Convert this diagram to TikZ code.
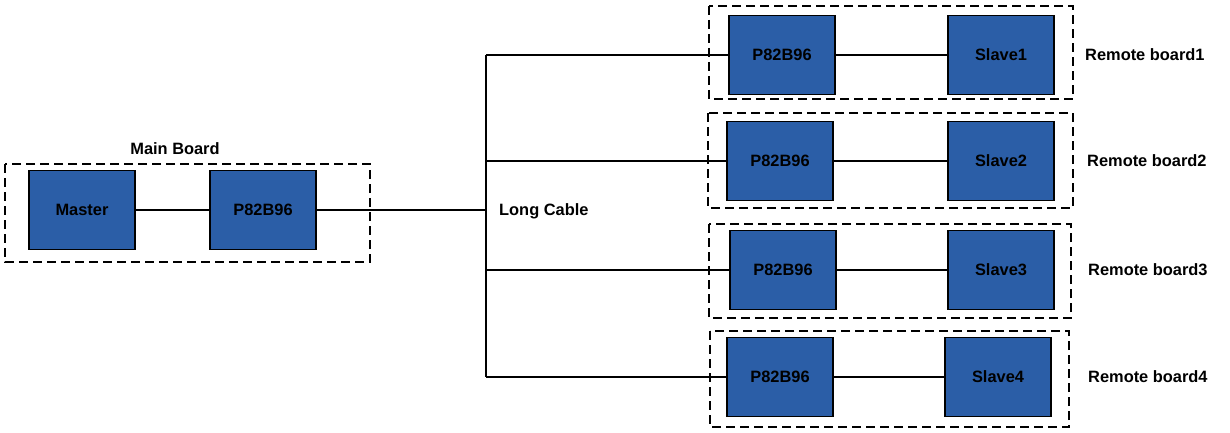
\documentclass[tikz,border=0pt]{standalone}
\usepackage{fontspec}
\setmainfont{Liberation Sans}
\begin{document}
\begin{tikzpicture}[x=1pt,y=-1pt,
  chip/.style={draw=black,line width=1.5pt,fill=chipblue,minimum width=106pt,minimum height=79pt,inner sep=0pt,font=\fontsize{16.4}{19}\selectfont\bfseries},
  board/.style={draw=black,line width=1.8pt,dash pattern=on 9pt off 5pt},
  lbl/.style={font=\fontsize{16.4}{19}\selectfont\bfseries,inner sep=0pt},
  wire/.style={draw=black,line width=1.2pt},
  cable/.style={draw=black,line width=2pt}]
\definecolor{chipblue}{HTML}{2B5EA7}
\useasboundingbox (0,0) rectangle (1230,433);
% main board
\draw[board] (5,164) rectangle (370,262);
\node[chip] (master) at (82,210) {Master};
\node[chip] (mp) at (263,210) {P82B96};
\node[lbl] (mainlbl) at (175,149) {Main Board};
\draw[wire] (master) -- (mp);
% remote boards
\draw[board] (709,6) rectangle (1073,99);
\draw[board] (708,113) rectangle (1073,208);
\draw[board] (709,224) rectangle (1071,318);
\draw[board] (710,331) rectangle (1069,427);
\node[chip] (r1) at (782,55) {P82B96};
\node[chip] (s1) at (1001,55) {Slave1};
\node[chip] (r2) at (780,161) {P82B96};
\node[chip] (s2) at (1001,161) {Slave2};
\node[chip] (r3) at (783,270) {P82B96};
\node[chip] (s3) at (1001,270) {Slave3};
\node[chip] (r4) at (780,377) {P82B96};
\node[chip] (s4) at (998,377) {Slave4};
\node[lbl,anchor=west] (l1) at (1085,55) {Remote board1};
\node[lbl,anchor=west] (l2) at (1087,161) {Remote board2};
\node[lbl,anchor=west] (l3) at (1088,270) {Remote board3};
\node[lbl,anchor=west] (l4) at (1088,377) {Remote board4};
\draw[wire] (r1) -- (s1);
\draw[wire] (r2) -- (s2);
\draw[wire] (r3) -- (s3);
\draw[wire] (r4) -- (s4);
% bus
\coordinate (bmid) at (486,210);
\coordinate (b1) at (486,55);
\coordinate (b2) at (486,161);
\coordinate (b3) at (486,270);
\coordinate (b4) at (486,377);
\draw[cable] (mp.east) -- (bmid);
\draw[wire] (b1) -- (b4);
\draw[wire] (b1) -- (r1.west);
\draw[wire] (b2) -- (r2.west);
\draw[wire] (b3) -- (r3.west);
\draw[wire] (b4) -- (r4.west);
\node[lbl,anchor=west] (lc) at (499,211) {Long Cable};
\end{tikzpicture}
\end{document}
